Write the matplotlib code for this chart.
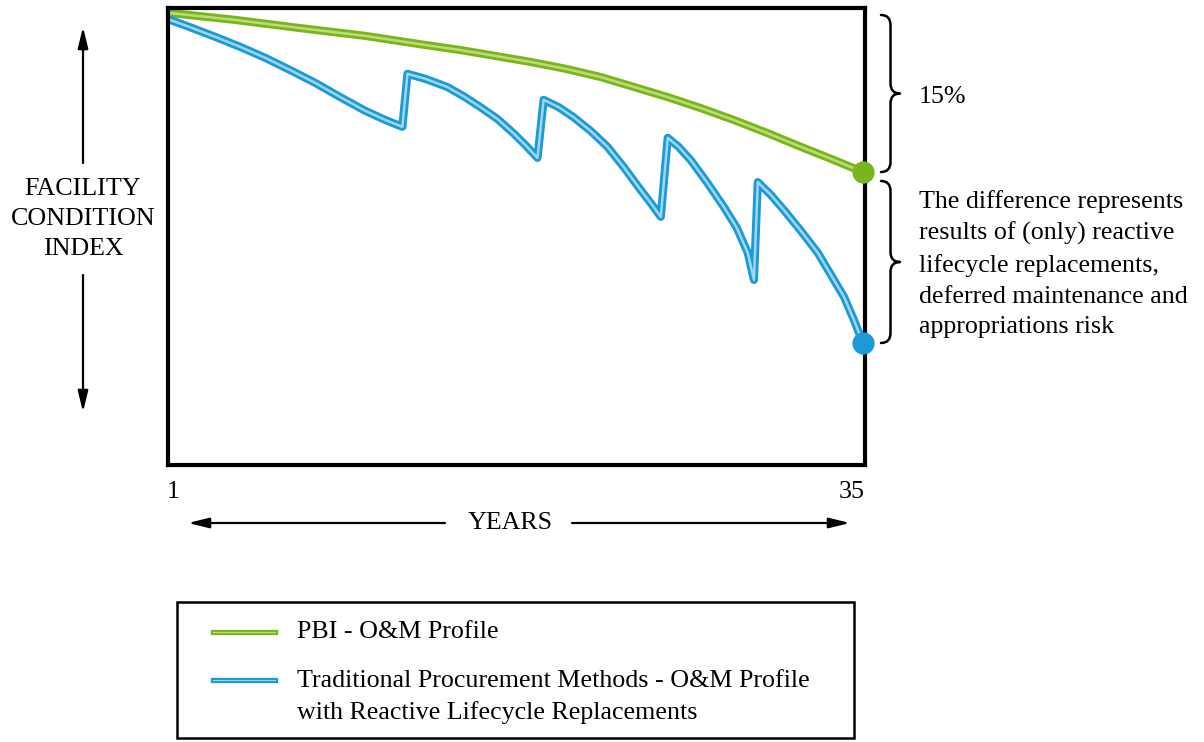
"""
Facility condition index over 35 years: PBI vs traditional procurement.
"""

import matplotlib

matplotlib.use("Agg")
import matplotlib.pyplot as plt
from matplotlib.lines import Line2D
from matplotlib.patches import FancyArrowPatch, PathPatch, Rectangle
from matplotlib.path import Path

# --- data (index 0-100) ---
pbi_years = [1.0, 4.19, 7.39, 10.58, 13.53, 15.25, 18.69, 20.41, 22.13,
             25.42, 27.04, 28.66, 30.33, 31.96, 33.43, 35.0]
pbi_fci = [98.9, 97.4, 95.6, 93.9, 91.9, 90.8, 88.2, 86.7, 84.9,
           80.5, 78.1, 75.5, 72.6, 69.6, 67.0, 64.1]

trad_years = [1.0, 1.98, 3.21, 4.44, 5.67, 6.90, 8.13, 9.35, 10.58, 11.56, 12.40,
              12.65, 13.53, 14.61, 15.40, 16.23, 17.07, 17.85, 18.44, 19.03,
              19.33, 20.07, 20.80, 21.64, 22.47, 23.26, 24.09, 24.59, 25.08,
              25.42, 25.96, 26.55, 27.34, 28.17, 28.81, 29.35, 29.65,
              29.84, 30.48, 31.12, 31.96, 32.79, 33.43, 34.07, 34.56, 35.0]
trad_fci = [97.4, 95.8, 93.7, 91.5, 89.1, 86.4, 83.6, 80.5, 77.5, 75.5, 74.0,
            85.6, 84.5, 82.7, 80.7, 78.3, 75.7, 72.6, 70.0, 67.2,
            79.9, 78.3, 76.1, 73.1, 69.6, 65.2, 60.2, 57.3, 54.3,
            71.6, 69.6, 66.7, 61.9, 56.5, 51.9, 46.4, 40.5,
            61.9, 59.1, 55.8, 51.2, 46.4, 41.6, 36.8, 31.7, 26.7]

year_labels = ["1", "35"]
y_label = "FACILITY\nCONDITION\nINDEX"
x_label = "YEARS"
gap_label = "15%"
diff_label = ("The difference represents\nresults of (only) reactive\n"
              "lifecycle replacements,\ndeferred maintenance and\n"
              "appropriations risk")
legend_labels = ["PBI - O&M Profile",
                 "Traditional Procurement Methods - O&M Profile\n"
                 "with Reactive Lifecycle Replacements"]

GREEN, GREEN_LT = "#7ab51d", "#bcdc7a"
BLUE, BLUE_LT = "#1c9ad6", "#9ed8f4"
FS = 18.7

plt.rcParams["font.family"] = ["Liberation Serif", "DejaVu Serif"]
W, H = 1204, 742


def fx(px):
    return px / W


def fy(py):
    return 1 - py / H


def brace(fig, x0, top, bot, w):
    """Right-pointing curly brace in pixel coordinates."""
    xm = x0 + w / 2
    mid = (top + bot) / 2
    q = 10
    pts = [(x0, top), (xm, top), (xm, top + q), (xm, mid - q),
           (xm, mid), (x0 + w, mid), (xm, mid), (xm, mid + q),
           (xm, bot - q), (xm, bot), (x0, bot)]
    codes = [Path.MOVETO, Path.CURVE3, Path.CURVE3, Path.LINETO,
             Path.CURVE3, Path.CURVE3, Path.CURVE3, Path.CURVE3,
             Path.LINETO, Path.CURVE3, Path.CURVE3]
    verts = [(fx(x), fy(y)) for x, y in pts]
    fig.add_artist(PathPatch(Path(verts, codes), transform=fig.transFigure,
                             fill=False, lw=1.8, color="black",
                             capstyle="round", joinstyle="round"))


def arrow(fig, start, end):
    fig.add_artist(FancyArrowPatch((fx(start[0]), fy(start[1])),
                                   (fx(end[0]), fy(end[1])),
                                   transform=fig.transFigure,
                                   arrowstyle="-|>,head_length=0.9,head_width=0.22",
                                   mutation_scale=14, lw=1.6, color="black",
                                   shrinkA=0, shrinkB=0))


fig = plt.figure(figsize=(W / 100, H / 100), dpi=100)
ax = fig.add_axes([fx(168), fy(465), fx(865) - fx(168), fy(8) - fy(465)])

for years, fci, dark, light in [(pbi_years, pbi_fci, GREEN, GREEN_LT),
                                (trad_years, trad_fci, BLUE, BLUE_LT)]:
    ax.plot(years, fci, color=dark, lw=5.9, solid_joinstyle="round",
            solid_capstyle="round", zorder=3)
    ax.plot(years, fci, color=light, lw=1.8, solid_joinstyle="round",
            solid_capstyle="round", zorder=4)

ax.plot(pbi_years[-1], pbi_fci[-1], "o", color=GREEN, ms=15, clip_on=False, zorder=6)
ax.plot(trad_years[-1], trad_fci[-1], "o", color=BLUE, ms=15, clip_on=False, zorder=6)

ax.set_xlim(0.9, 35.1)
ax.set_ylim(0, 100)
ax.set_xticks([])
ax.set_yticks([])
for sp in ax.spines.values():
    sp.set_linewidth(3)
    sp.set_zorder(5)

# y axis label with arrows
fig.text(fx(83), fy(219), y_label, ha="center", va="center", fontsize=FS,
         linespacing=1.48)
arrow(fig, (83, 163), (83, 27))
arrow(fig, (83, 275), (83, 412))

# x axis labels
fig.text(fx(173), fy(492), year_labels[0], ha="center", va="center", fontsize=FS)
fig.text(fx(852), fy(492), year_labels[1], ha="center", va="center", fontsize=FS)
fig.text(fx(510), fy(523), x_label, ha="center", va="center", fontsize=FS)
arrow(fig, (445, 523), (188, 523))
arrow(fig, (572, 523), (850, 523))

# braces and notes
brace(fig, 881, 15, 172, 19)
brace(fig, 881, 181, 343, 19)
fig.text(fx(919), fy(97), gap_label, ha="left", va="center", fontsize=FS)
fig.text(fx(919), fy(264), diff_label, ha="left", va="center", fontsize=FS,
         linespacing=1.5)

# legend box
fig.add_artist(Rectangle((fx(177), fy(738)), fx(854) - fx(177), fy(602) - fy(738),
                         transform=fig.transFigure, fill=False, lw=1.8,
                         color="black"))
for ly, dark, light in [(632, GREEN, GREEN_LT), (680, BLUE, BLUE_LT)]:
    fig.add_artist(Line2D([fx(213), fx(275)], [fy(ly), fy(ly)],
                          transform=fig.transFigure, color=dark, lw=3.8))
    fig.add_artist(Line2D([fx(213), fx(275)], [fy(ly), fy(ly)],
                          transform=fig.transFigure, color=light, lw=0.8))
fig.text(fx(297), fy(632), legend_labels[0], ha="left", va="center", fontsize=FS)
fig.text(fx(297), fy(697), legend_labels[1], ha="left", va="center", fontsize=FS,
         linespacing=1.5)

fig.savefig("out.png", dpi=100)
